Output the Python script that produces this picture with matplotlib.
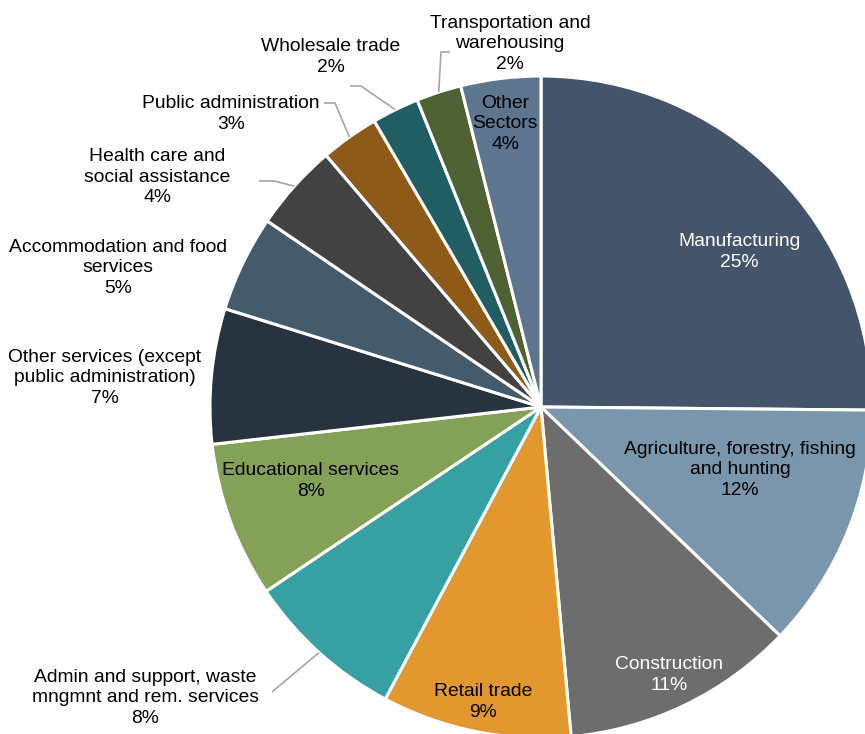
import numpy as np
import matplotlib
matplotlib.use('agg')
import matplotlib.pyplot as plt

plt.rcParams['font.family'] = ['Liberation Sans', 'DejaVu Sans']

# share of employment by sector (%), clockwise from 12 o'clock
sectors = ["Manufacturing",
           "Agriculture, forestry, fishing\nand hunting",
           "Construction",
           "Retail trade",
           "Admin and support, waste\nmngmnt and rem. services",
           "Educational services",
           "Other services (except\npublic administration)",
           "Accommodation and food\nservices",
           "Health care and\nsocial assistance",
           "Public administration",
           "Wholesale trade",
           "Transportation and\nwarehousing",
           "Other\nSectors"]
shares = [25.15, 12.0, 11.4, 9.25, 7.8, 7.6, 6.6, 4.7, 4.25, 2.85, 2.3, 2.2, 3.9]
colors = ["#44546A", "#7A96AC", "#6D6D6D", "#E3982F", "#36A0A3", "#84A257",
          "#283340", "#455B6C", "#424242", "#8E5A17", "#215E63", "#4E6133", "#5E7590"]
text_colors = ["white", "black", "white", "black", "black", "black", "black",
               "black", "black", "black", "black", "black", "black"]

W, H = 865, 734
cx, cy, R = 541, 407, 331  # pie centre / radius in image pixels (y from top)

# label centres in image pixels
label_pos = [(739, 252), (740, 470), (669, 675), (483, 702), (145, 698), (311, 481),
             (105, 378), (118, 268), (157, 177), (231, 114), (331, 57), (510, 44), (505, 124)]
# leader line points (image pixels) before reaching the wedge edge
leaders = {4: [(272, 692)],
           8: [(259, 181), (274, 181)],
           9: [(324, 103), (335, 103)],
           10: [(350, 86), (361, 86)],
           11: [(450, 52), (441, 52)]}

fig = plt.figure(figsize=(W / 100, H / 100), dpi=100)
ax = fig.add_axes([0, 0, 1, 1])

wedges, _ = ax.pie(shares, colors=colors, startangle=90, counterclock=False,
                   center=(cx, H - cy), radius=R,
                   wedgeprops=dict(edgecolor='white', linewidth=2.2))
ax.set_xlim(0, W)
ax.set_ylim(0, H)
ax.set_aspect('equal')
ax.axis('off')

total = sum(shares)
for i, (name, v) in enumerate(zip(sectors, shares)):
    pct = round(v / total * 100)
    x, y = label_pos[i]
    ax.text(x, H - y, f"{name}\n{pct}%", ha='center', va='center', multialignment='center',
            fontsize=13.9, color=text_colors[i], linespacing=1.25)
    if i in leaders:
        w = wedges[i]
        mid = np.deg2rad((w.theta1 + w.theta2) / 2)
        ex, ey = cx + R * np.cos(mid), (H - cy) + R * np.sin(mid)
        pts = [(px, H - py) for px, py in leaders[i]] + [(ex, ey)]
        xs, ys = zip(*pts)
        ax.plot(xs, ys, color='#A6A6A6', lw=1.2, solid_capstyle='butt')

plt.savefig("out.png", dpi=100)
